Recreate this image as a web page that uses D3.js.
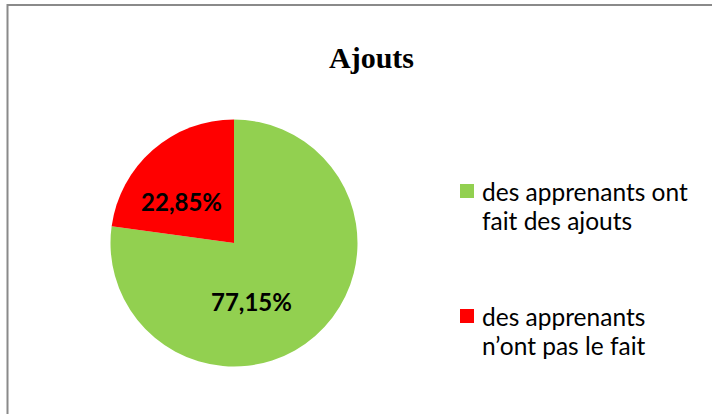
<!DOCTYPE html>
<html>
<head>
<meta charset="utf-8">
<script src="https://cdn.jsdelivr.net/npm/d3@7"></script>
<style>
  body { margin: 0; background: #fff; }
  svg { display: block; }
</style>
</head>
<body>
<div id="chart"></div>
<script>
// Ajouts pie chart

const categories = [
  ['des apprenants ont', 'fait des ajouts'],
  ['des apprenants', 'n\u2019ont pas le fait']
];
const values = [77.15, 22.85];
const labels = ['77,15%', '22,85%'];
const colors = ['#92D050', '#FF0000'];

const width = 712;
const height = 414;
const cx = 234, cy = 243, radius = 123.5;

const svg = d3.select('#chart')
  .append('svg')
  .attr('width', width)
  .attr('height', height);

// frame (only top and left edges show in the picture)
svg.append('rect')
  .attr('x', 7.5)
  .attr('y', 5)
  .attr('width', width + 20)
  .attr('height', height + 20)
  .attr('fill', 'none')
  .attr('stroke', '#8a8a8a')
  .attr('stroke-width', 2);

svg.append('text')
  .attr('x', 371.5)
  .attr('y', 68)
  .attr('text-anchor', 'middle')
  .style('font-family', '"Liberation Serif", "Times New Roman", serif')
  .style('font-weight', 'bold')
  .style('font-size', '30px')
  .text('Ajouts');

const pie = d3.pie().sort(null).value(d => d);
const arcs = pie(values);

const arc = d3.arc().innerRadius(0).outerRadius(radius);
const labelArc = d3.arc().innerRadius(radius * 0.535).outerRadius(radius * 0.535);

const g = svg.append('g')
  .attr('transform', `translate(${cx}, ${cy})`);

g.selectAll('path')
  .data(arcs)
  .join('path')
  .attr('d', arc)
  .attr('fill', (d, i) => colors[i]);

// Excel "best fit" shifts the labels a little off the centroid
const nudge = [[-26, 10], [-9, 9]];

g.selectAll('text.lbl')
  .data(arcs)
  .join('text')
  .attr('class', 'lbl')
  .attr('x', (d, i) => labelArc.centroid(d)[0] + nudge[i][0])
  .attr('y', (d, i) => labelArc.centroid(d)[1] + nudge[i][1])
  .attr('text-anchor', 'middle')
  .attr('dy', '0.35em')
  .style('font-family', 'Lato, "Open Sans", sans-serif')
  .style('font-weight', 'bold')
  .style('font-size', '24px')
  .attr('fill', '#000')
  .text((d, i) => labels[i]);

const legend = svg.append('g')
  .attr('transform', 'translate(460, 184)');

const item = legend.selectAll('g')
  .data(categories)
  .join('g')
  .attr('transform', (d, i) => `translate(0, ${i * 125})`);

item.append('rect')
  .attr('width', 14)
  .attr('height', 14)
  .attr('fill', (d, i) => colors[i]);

item.append('text')
  .style('font-family', 'Lato, "Open Sans", sans-serif')
  .style('font-size', '24.5px')
  .attr('fill', '#000')
  .selectAll('tspan')
  .data(d => d)
  .join('tspan')
  .attr('x', 22)
  .attr('y', (d, i) => 17 + i * 29)
  .text(d => d);
</script>
</body>
</html>
